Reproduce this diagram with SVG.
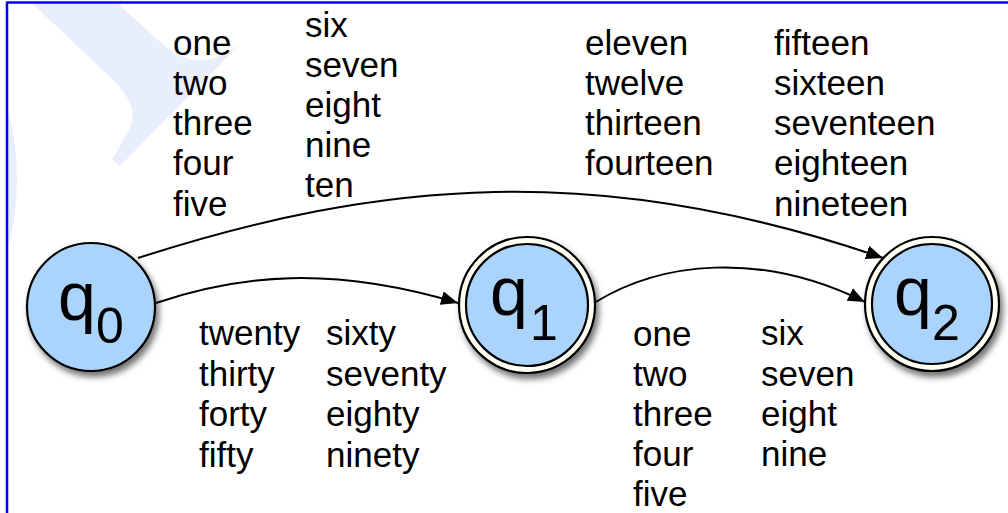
<svg xmlns="http://www.w3.org/2000/svg" width="1008" height="513" viewBox="0 0 1008 513">
  <style>
    .lbl { font-family: "Liberation Sans", Arial, sans-serif; font-size: 35px; fill: #000; }
    .q { font-family: "Liberation Sans", Arial, sans-serif; font-size: 68px; fill: #000; }
    .sub { font-family: "Liberation Sans", Arial, sans-serif; font-size: 50px; fill: #000; }
    .edge { fill: none; stroke: #000; stroke-width: 2; }
    .st { fill: #aad4fc; stroke: #000; stroke-width: 2.2; }
    .ring { fill: #fffff4; stroke: #000; stroke-width: 2.2; }
    .wm { fill: #e8eefc; }
  </style>
  <defs>
    <marker id="arr" markerUnits="userSpaceOnUse" markerWidth="18" markerHeight="14" refX="17" refY="7" orient="auto">
      <path d="M0,0 L17,7 L0,14 Z" fill="#000"/>
    </marker>
    <filter id="shadow" x="-20%" y="-20%" width="150%" height="150%">
      <feDropShadow dx="3" dy="5" stdDeviation="3" flood-color="#000" flood-opacity="0.55"/>
    </filter>
  </defs>
  <rect x="0" y="0" width="1008" height="513" fill="#fff"/>
  <g id="watermark">
    <path class="wm" d="M32,3 L113,80 Q140,106 130,128 L112,160 L120,166 L240,44 Q215,63 193,60 Q180,57 167,48 L117,3 Z"/>
    <path class="wm" d="M8,110 Q26,178 8,248 Z"/>
  </g>
  <g id="frame" stroke="#0000ff" stroke-width="2.5" fill="none">
    <line x1="7" y1="2.5" x2="1008" y2="2.5"/>
    <line x1="7" y1="1.5" x2="7" y2="513"/>
  </g>
  <g id="connectors">
    <path class="edge" d="M138,258 C380,180 600,160 883,258" marker-end="url(#arr)"/>
    <path class="edge" d="M156,303 C240,275 330,265 458,303" marker-end="url(#arr)"/>
    <path class="edge" d="M594,303 C660,262 760,250 865,302" marker-end="url(#arr)"/>
  </g>
  <g id="edge-labels">
    <text class="lbl" x="173" y="55">one</text>
    <text class="lbl" x="173" y="95">two</text>
    <text class="lbl" x="173" y="135">three</text>
    <text class="lbl" x="173" y="175">four</text>
    <text class="lbl" x="173" y="216">five</text>
    <text class="lbl" x="305" y="37">six</text>
    <text class="lbl" x="305" y="77">seven</text>
    <text class="lbl" x="305" y="117">eight</text>
    <text class="lbl" x="305" y="157">nine</text>
    <text class="lbl" x="305" y="197">ten</text>
    <text class="lbl" x="585" y="55">eleven</text>
    <text class="lbl" x="585" y="95">twelve</text>
    <text class="lbl" x="585" y="135">thirteen</text>
    <text class="lbl" x="585" y="175">fourteen</text>
    <text class="lbl" x="774" y="55">fifteen</text>
    <text class="lbl" x="774" y="95">sixteen</text>
    <text class="lbl" x="774" y="135">seventeen</text>
    <text class="lbl" x="774" y="175">eighteen</text>
    <text class="lbl" x="774" y="216">nineteen</text>
    <text class="lbl" x="199" y="345">twenty</text>
    <text class="lbl" x="199" y="386">thirty</text>
    <text class="lbl" x="199" y="426">forty</text>
    <text class="lbl" x="199" y="467">fifty</text>
    <text class="lbl" x="326" y="345">sixty</text>
    <text class="lbl" x="326" y="386">seventy</text>
    <text class="lbl" x="326" y="426">eighty</text>
    <text class="lbl" x="326" y="467">ninety</text>
    <text class="lbl" x="633" y="346">one</text>
    <text class="lbl" x="633" y="386">two</text>
    <text class="lbl" x="633" y="426">three</text>
    <text class="lbl" x="633" y="466">four</text>
    <text class="lbl" x="633" y="506">five</text>
    <text class="lbl" x="761" y="345">six</text>
    <text class="lbl" x="761" y="386">seven</text>
    <text class="lbl" x="761" y="426">eight</text>
    <text class="lbl" x="761" y="466">nine</text>
  </g>
  <g id="q0">
    <circle class="st" cx="91" cy="307" r="64" filter="url(#shadow)"/>
    <text class="q" x="58" y="320">q</text>
    <text class="sub" x="96" y="343">0</text>
  </g>
  <g id="q1">
    <circle class="ring" cx="527" cy="305" r="68" filter="url(#shadow)"/>
    <circle class="st" cx="527" cy="305" r="61"/>
    <text class="q" x="490" y="315">q</text>
    <text class="sub" x="530" y="340">1</text>
  </g>
  <g id="q2">
    <circle class="ring" cx="932" cy="304" r="67" filter="url(#shadow)"/>
    <circle class="st" cx="932" cy="304" r="60"/>
    <text class="q" x="894" y="315">q</text>
    <text class="sub" x="932" y="340">2</text>
  </g>
</svg>
